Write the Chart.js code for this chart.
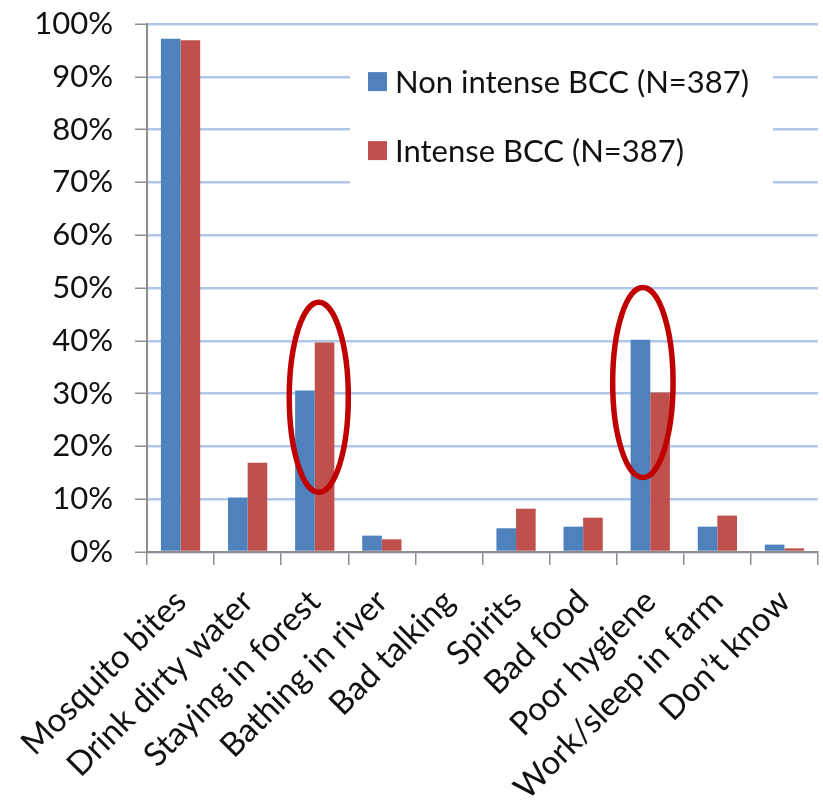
<!DOCTYPE html>
<html>
<head>
<meta charset="utf-8">
<script src="https://cdn.jsdelivr.net/npm/chart.js@4.4.1/dist/chart.umd.min.js"></script>
<style>
  html, body { margin: 0; padding: 0; background: #ffffff; }
  canvas { display: block; }
</style>
</head>
<body>
<canvas id="chart" width="823" height="812"></canvas>
<script>
// Perceived causes of malaria, share of respondents (%)
const categories = [
  'Mosquito bites', 'Drink dirty water', 'Staying in forest', 'Bathing in river',
  'Bad talking', 'Spirits', 'Bad food', 'Poor hygiene', 'Work/sleep in farm', 'Don\u2019t know'
];
const nonIntenseBCC = [97.2, 10.3, 30.6, 3.1, 0, 4.5, 4.8, 40.2, 4.8, 1.4];
const intenseBCC    = [96.9, 16.9, 39.7, 2.4, 0, 8.2, 6.5, 30.2, 6.9, 0.7];
const seriesNames = ['Non intense BCC (N=387)', 'Intense BCC (N=387)'];
const yTickValues = [0, 10, 20, 30, 40, 50, 60, 70, 80, 90, 100];
const highlightedCategories = ['Staying in forest', 'Poor hygiene'];

const FONT = 'Lato';
const BLUE = '#4F81BD';
const RED = '#C0504D';
const AXIS_GREY = '#8E8E8E';
const GRID_BLUE = '#B2C6EA';

// Legend drawn inside the plot on a white panel
const insideLegend = {
  id: 'insideLegend',
  beforeDatasetsDraw(chart, args, opts) {
    const ctx = chart.ctx;
    const y = chart.scales.y;
    const area = chart.chartArea;
    const left = area.left + opts.left;
    const right = area.left + opts.right;
    const top = y.getPixelForValue(opts.topValue);
    const bottom = y.getPixelForValue(opts.bottomValue);
    ctx.save();
    ctx.fillStyle = '#ffffff';
    ctx.fillRect(left, top, right - left, bottom - top);
    ctx.font = opts.fontSize + 'px ' + FONT;
    ctx.textBaseline = 'middle';
    ctx.textAlign = 'left';
    chart.data.datasets.forEach((ds, i) => {
      const cy = top + opts.firstRow + i * opts.rowGap;
      ctx.fillStyle = ds.backgroundColor;
      ctx.fillRect(left + opts.boxInset, cy - opts.box / 2, opts.box, opts.box);
      ctx.fillStyle = '#111111';
      ctx.fillText(ds.label, left + opts.boxInset + opts.box + opts.textGap, cy + 1);
    });
    ctx.restore();
  }
};

// Red ellipses marking the highlighted categories
const highlightRings = {
  id: 'highlightRings',
  afterDatasetsDraw(chart, args, opts) {
    const ctx = chart.ctx;
    const x = chart.scales.x;
    const y = chart.scales.y;
    const step = x.width / categories.length;
    ctx.save();
    ctx.strokeStyle = opts.color;
    ctx.lineWidth = opts.lineWidth;
    opts.rings.forEach((r) => {
      const idx = categories.indexOf(r.category);
      const cx = x.getPixelForValue(idx) + r.dx * step;
      const cy = y.getPixelForValue(r.centerValue);
      const ry = Math.abs(y.getPixelForValue(r.centerValue + r.halfSpan) - cy);
      ctx.beginPath();
      ctx.ellipse(cx, cy, r.rx * step, ry, 0, 0, Math.PI * 2);
      ctx.stroke();
    });
    ctx.restore();
  }
};

function build() {
  new Chart(document.getElementById('chart'), {
    type: 'bar',
    data: {
      labels: categories,
      datasets: [
        { label: seriesNames[0], data: nonIntenseBCC, backgroundColor: BLUE },
        { label: seriesNames[1], data: intenseBCC, backgroundColor: RED }
      ]
    },
    options: {
      responsive: false,
      animation: false,
      events: [],
      layout: { padding: { top: 24, right: 5, left: 0, bottom: 0 } },
      datasets: { bar: { categoryPercentage: 0.585, barPercentage: 1.0 } },
      scales: {
        x: {
          grid: {
            display: true, drawOnChartArea: false, offset: true,
            tickLength: 13, color: AXIS_GREY, lineWidth: 1.5
          },
          border: { display: true, color: AXIS_GREY, width: 2 },
          ticks: {
            autoSkip: false, minRotation: 45, maxRotation: 45,
            color: '#111111', padding: 17,
            font: { family: FONT, size: 33 }
          },
          afterFit(scale) {
            scale.height = 260;
            scale.paddingTop = 0;
            scale.paddingLeft = 0;
            scale.paddingRight = 0;
          }
        },
        y: {
          min: 0, max: 100,
          afterBuildTicks(scale) { scale.ticks = yTickValues.map(v => ({ value: v })); },
          grid: {
            color: GRID_BLUE, lineWidth: 2.5,
            tickLength: 12, tickColor: AXIS_GREY, tickWidth: 1.5
          },
          border: { display: true, color: AXIS_GREY, width: 2 },
          ticks: {
            color: '#111111', padding: 22,
            font: { family: FONT, size: 31 },
            callback: (v) => v + '%'
          },
          afterFit(scale) { scale.width = 147; scale.paddingTop = 0; scale.paddingBottom = 0; }
        }
      },
      plugins: {
        legend: { display: false },
        tooltip: { enabled: false },
        insideLegend: {
          left: 203, right: 626, topValue: 92.5, bottomValue: 67.5,
          firstRow: 18, rowGap: 69, box: 19, boxInset: 18, textGap: 8, fontSize: 31
        },
        highlightRings: {
          color: '#C00000', lineWidth: 5.5,
          rings: [
            { category: highlightedCategories[0], dx: 0.06, centerValue: 29.3, rx: 0.44, halfSpan: 18.0 },
            { category: highlightedCategories[1], dx: -0.11, centerValue: 32.1, rx: 0.45, halfSpan: 18.0 }
          ]
        }
      }
    },
    plugins: [insideLegend, highlightRings]
  });
}

document.fonts.load('31px ' + FONT).then(build, build);
</script>
</body>
</html>
